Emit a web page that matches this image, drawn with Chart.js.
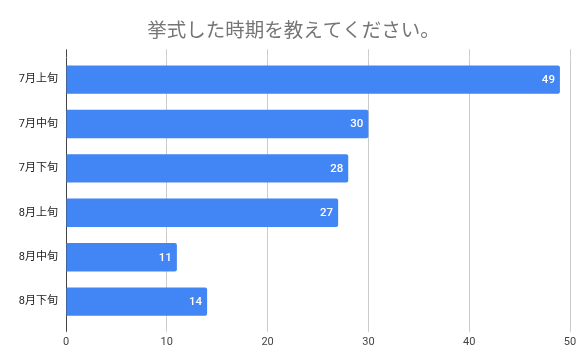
<!DOCTYPE html>
<html>
<head>
<meta charset="utf-8">
<script src="https://cdn.jsdelivr.net/npm/chart.js@4/dist/chart.umd.min.js"></script>
<style>
html,body{margin:0;padding:0;background:#fff;}
#wrap{width:587px;height:363px;}
</style>
</head>
<body>
<div id="wrap"><canvas id="c" width="587" height="363"></canvas></div>
<script>
const titleText = '挙式した時期を教えてください。';
const categories = ['7月上旬', '7月中旬', '7月下旬', '8月上旬', '8月中旬', '8月下旬'];
const values = [49, 30, 28, 27, 11, 14];
const xMin = 0, xMax = 50, xStep = 10;

const FONT = "Roboto, 'Noto Sans CJK JP', sans-serif";
const gridColor = ctx => (ctx.tick && ctx.tick.value === 0) ? '#444' : '#cccccc';

const valueLabels = {
  id: 'valueLabels',
  afterDatasetsDraw(chart) {
    const ctx = chart.ctx;
    const meta = chart.getDatasetMeta(0);
    ctx.save();
    ctx.fillStyle = '#ffffff';
    ctx.font = "500 11.5px " + FONT;
    ctx.textAlign = 'right';
    ctx.textBaseline = 'middle';
    meta.data.forEach((bar, i) => {
      ctx.fillText(String(chart.data.datasets[0].data[i]), bar.x - 5, bar.y + 0.5);
    });
    ctx.restore();
  }
};

new Chart(document.getElementById('c'), {
  type: 'bar',
  data: {
    labels: categories,
    datasets: [{
      data: values,
      backgroundColor: '#4285F4',
      borderRadius: 2,
      borderSkipped: 'start',
      barPercentage: 0.64,
      categoryPercentage: 1.0
    }]
  },
  plugins: [valueLabels],
  options: {
    indexAxis: 'y',
    responsive: false,
    animation: false,
    devicePixelRatio: 1,
    layout: { padding: { left: 17, right: 17, top: 0, bottom: 10 } },
    plugins: {
      legend: { display: false },
      tooltip: { enabled: false },
      title: {
        display: true,
        text: titleText,
        color: '#757575',
        font: { family: "'Noto Sans CJK JP', sans-serif", size: 19.5, weight: 'normal' },
        padding: { top: 18, bottom: 8 }
      }
    },
    scales: {
      x: {
        type: 'linear',
        position: 'bottom',
        min: xMin, max: xMax,
        ticks: { stepSize: xStep, color: '#444', font: { family: FONT, size: 11 }, padding: 4 },
        grid: { color: gridColor, drawTicks: true, tickLength: 8 },
        border: { display: false }
      },
      x2: {
        type: 'linear',
        axis: 'x',
        position: 'top',
        min: xMin, max: xMax,
        ticks: { stepSize: xStep, display: false },
        grid: { color: gridColor, drawOnChartArea: false, drawTicks: true, tickLength: 8 },
        border: { display: false }
      },
      y: {
        type: 'category',
        grid: { display: false, drawTicks: false },
        border: { display: false },
        ticks: { color: '#222', font: { family: FONT, size: 11 }, padding: 8 },
        afterFit(scale) { scale.width = 49; }
      }
    }
  }
});
</script>
</body>
</html>
